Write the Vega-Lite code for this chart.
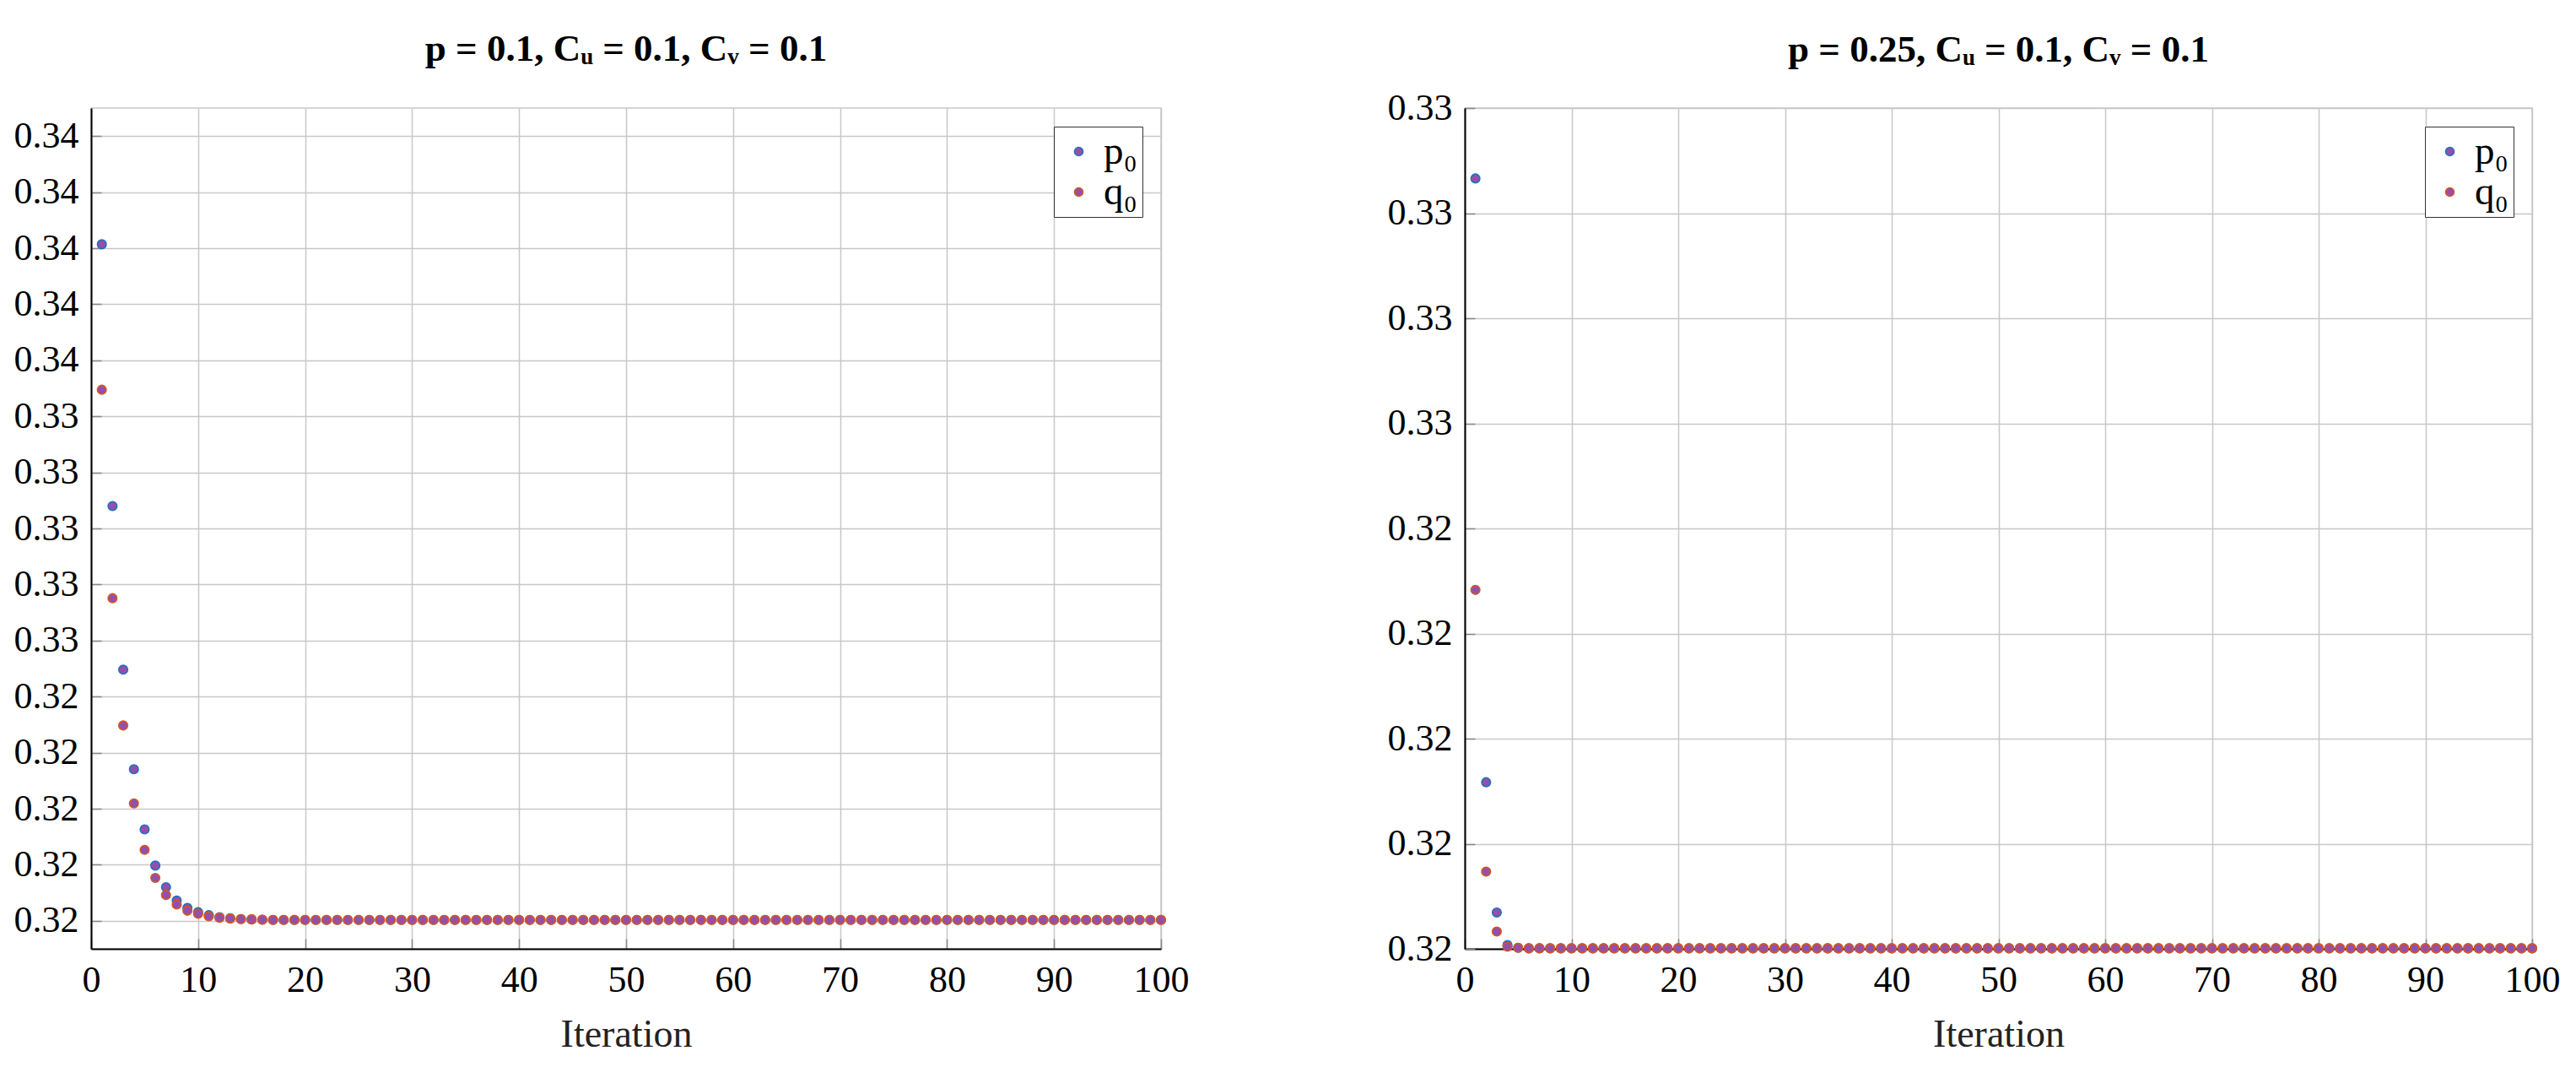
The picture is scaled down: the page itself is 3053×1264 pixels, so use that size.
{
  "$schema": "https://vega.github.io/schema/vega-lite/v6.json",
  "padding": {"left": 15, "top": 35, "right": 0, "bottom": 0},
  "spacing": 233,
  "resolve": {"scale": {"stroke": "independent"}, "legend": {"stroke": "independent"}},
  "datasets": {
    "left": [
      {"i":1,"p":0.34014,"q":0.33495},{"i":2,"p":0.3308,"q":0.32751},{"i":3,"p":0.32496,"q":0.32297},{"i":4,"p":0.32141,"q":0.32019},{"i":5,"p":0.31926,"q":0.31853},
      {"i":6,"p":0.31797,"q":0.31753},{"i":7,"p":0.3172,"q":0.31692},{"i":8,"p":0.31672,"q":0.31658},{"i":9,"p":0.31646,"q":0.31636},{"i":10,"p":0.31631,"q":0.31625},
      {"i":11,"p":0.3162,"q":0.31616},{"i":12,"p":0.31613,"q":0.31611},{"i":13,"p":0.31609,"q":0.31608},{"i":14,"p":0.31606,"q":0.31606},{"i":15,"p":0.31605,"q":0.31605},
      {"i":16,"p":0.31604,"q":0.31604},{"i":17,"p":0.31603,"q":0.31603},{"i":18,"p":0.31603,"q":0.31603},{"i":19,"p":0.31603,"q":0.31603},{"i":20,"p":0.31603,"q":0.31603},
      {"i":21,"p":0.31603,"q":0.31603},{"i":22,"p":0.31603,"q":0.31603},{"i":23,"p":0.31603,"q":0.31603},{"i":24,"p":0.31603,"q":0.31603},{"i":25,"p":0.31603,"q":0.31603},
      {"i":26,"p":0.31603,"q":0.31603},{"i":27,"p":0.31603,"q":0.31603},{"i":28,"p":0.31603,"q":0.31603},{"i":29,"p":0.31603,"q":0.31603},{"i":30,"p":0.31603,"q":0.31603},
      {"i":31,"p":0.31603,"q":0.31603},{"i":32,"p":0.31603,"q":0.31603},{"i":33,"p":0.31603,"q":0.31603},{"i":34,"p":0.31603,"q":0.31603},{"i":35,"p":0.31603,"q":0.31603},
      {"i":36,"p":0.31603,"q":0.31603},{"i":37,"p":0.31603,"q":0.31603},{"i":38,"p":0.31603,"q":0.31603},{"i":39,"p":0.31603,"q":0.31603},{"i":40,"p":0.31603,"q":0.31603},
      {"i":41,"p":0.31603,"q":0.31603},{"i":42,"p":0.31603,"q":0.31603},{"i":43,"p":0.31603,"q":0.31603},{"i":44,"p":0.31603,"q":0.31603},{"i":45,"p":0.31603,"q":0.31603},
      {"i":46,"p":0.31603,"q":0.31603},{"i":47,"p":0.31603,"q":0.31603},{"i":48,"p":0.31603,"q":0.31603},{"i":49,"p":0.31603,"q":0.31603},{"i":50,"p":0.31603,"q":0.31603},
      {"i":51,"p":0.31603,"q":0.31603},{"i":52,"p":0.31603,"q":0.31603},{"i":53,"p":0.31603,"q":0.31603},{"i":54,"p":0.31603,"q":0.31603},{"i":55,"p":0.31603,"q":0.31603},
      {"i":56,"p":0.31603,"q":0.31603},{"i":57,"p":0.31603,"q":0.31603},{"i":58,"p":0.31603,"q":0.31603},{"i":59,"p":0.31603,"q":0.31603},{"i":60,"p":0.31603,"q":0.31603},
      {"i":61,"p":0.31603,"q":0.31603},{"i":62,"p":0.31603,"q":0.31603},{"i":63,"p":0.31603,"q":0.31603},{"i":64,"p":0.31603,"q":0.31603},{"i":65,"p":0.31603,"q":0.31603},
      {"i":66,"p":0.31603,"q":0.31603},{"i":67,"p":0.31603,"q":0.31603},{"i":68,"p":0.31603,"q":0.31603},{"i":69,"p":0.31603,"q":0.31603},{"i":70,"p":0.31603,"q":0.31603},
      {"i":71,"p":0.31603,"q":0.31603},{"i":72,"p":0.31603,"q":0.31603},{"i":73,"p":0.31603,"q":0.31603},{"i":74,"p":0.31603,"q":0.31603},{"i":75,"p":0.31603,"q":0.31603},
      {"i":76,"p":0.31603,"q":0.31603},{"i":77,"p":0.31603,"q":0.31603},{"i":78,"p":0.31603,"q":0.31603},{"i":79,"p":0.31603,"q":0.31603},{"i":80,"p":0.31603,"q":0.31603},
      {"i":81,"p":0.31603,"q":0.31603},{"i":82,"p":0.31603,"q":0.31603},{"i":83,"p":0.31603,"q":0.31603},{"i":84,"p":0.31603,"q":0.31603},{"i":85,"p":0.31603,"q":0.31603},
      {"i":86,"p":0.31603,"q":0.31603},{"i":87,"p":0.31603,"q":0.31603},{"i":88,"p":0.31603,"q":0.31603},{"i":89,"p":0.31603,"q":0.31603},{"i":90,"p":0.31603,"q":0.31603},
      {"i":91,"p":0.31603,"q":0.31603},{"i":92,"p":0.31603,"q":0.31603},{"i":93,"p":0.31603,"q":0.31603},{"i":94,"p":0.31603,"q":0.31603},{"i":95,"p":0.31603,"q":0.31603},
      {"i":96,"p":0.31603,"q":0.31603},{"i":97,"p":0.31603,"q":0.31603},{"i":98,"p":0.31603,"q":0.31603},{"i":99,"p":0.31603,"q":0.31603},{"i":100,"p":0.31603,"q":0.31603}
    ],
    "right": [
      {"i":1,"p":0.33066,"q":0.32283},{"i":2,"p":0.31917,"q":0.31747},{"i":3,"p":0.31669,"q":0.31633},{"i":4,"p":0.31607,"q":0.31604},{"i":5,"p":0.31602,"q":0.31602},
      {"i":6,"p":0.31601,"q":0.31601},{"i":7,"p":0.31601,"q":0.31601},{"i":8,"p":0.31601,"q":0.31601},{"i":9,"p":0.31601,"q":0.31601},{"i":10,"p":0.31601,"q":0.31601},
      {"i":11,"p":0.31601,"q":0.31601},{"i":12,"p":0.31601,"q":0.31601},{"i":13,"p":0.31601,"q":0.31601},{"i":14,"p":0.31601,"q":0.31601},{"i":15,"p":0.31601,"q":0.31601},
      {"i":16,"p":0.31601,"q":0.31601},{"i":17,"p":0.31601,"q":0.31601},{"i":18,"p":0.31601,"q":0.31601},{"i":19,"p":0.31601,"q":0.31601},{"i":20,"p":0.31601,"q":0.31601},
      {"i":21,"p":0.31601,"q":0.31601},{"i":22,"p":0.31601,"q":0.31601},{"i":23,"p":0.31601,"q":0.31601},{"i":24,"p":0.31601,"q":0.31601},{"i":25,"p":0.31601,"q":0.31601},
      {"i":26,"p":0.31601,"q":0.31601},{"i":27,"p":0.31601,"q":0.31601},{"i":28,"p":0.31601,"q":0.31601},{"i":29,"p":0.31601,"q":0.31601},{"i":30,"p":0.31601,"q":0.31601},
      {"i":31,"p":0.31601,"q":0.31601},{"i":32,"p":0.31601,"q":0.31601},{"i":33,"p":0.31601,"q":0.31601},{"i":34,"p":0.31601,"q":0.31601},{"i":35,"p":0.31601,"q":0.31601},
      {"i":36,"p":0.31601,"q":0.31601},{"i":37,"p":0.31601,"q":0.31601},{"i":38,"p":0.31601,"q":0.31601},{"i":39,"p":0.31601,"q":0.31601},{"i":40,"p":0.31601,"q":0.31601},
      {"i":41,"p":0.31601,"q":0.31601},{"i":42,"p":0.31601,"q":0.31601},{"i":43,"p":0.31601,"q":0.31601},{"i":44,"p":0.31601,"q":0.31601},{"i":45,"p":0.31601,"q":0.31601},
      {"i":46,"p":0.31601,"q":0.31601},{"i":47,"p":0.31601,"q":0.31601},{"i":48,"p":0.31601,"q":0.31601},{"i":49,"p":0.31601,"q":0.31601},{"i":50,"p":0.31601,"q":0.31601},
      {"i":51,"p":0.31601,"q":0.31601},{"i":52,"p":0.31601,"q":0.31601},{"i":53,"p":0.31601,"q":0.31601},{"i":54,"p":0.31601,"q":0.31601},{"i":55,"p":0.31601,"q":0.31601},
      {"i":56,"p":0.31601,"q":0.31601},{"i":57,"p":0.31601,"q":0.31601},{"i":58,"p":0.31601,"q":0.31601},{"i":59,"p":0.31601,"q":0.31601},{"i":60,"p":0.31601,"q":0.31601},
      {"i":61,"p":0.31601,"q":0.31601},{"i":62,"p":0.31601,"q":0.31601},{"i":63,"p":0.31601,"q":0.31601},{"i":64,"p":0.31601,"q":0.31601},{"i":65,"p":0.31601,"q":0.31601},
      {"i":66,"p":0.31601,"q":0.31601},{"i":67,"p":0.31601,"q":0.31601},{"i":68,"p":0.31601,"q":0.31601},{"i":69,"p":0.31601,"q":0.31601},{"i":70,"p":0.31601,"q":0.31601},
      {"i":71,"p":0.31601,"q":0.31601},{"i":72,"p":0.31601,"q":0.31601},{"i":73,"p":0.31601,"q":0.31601},{"i":74,"p":0.31601,"q":0.31601},{"i":75,"p":0.31601,"q":0.31601},
      {"i":76,"p":0.31601,"q":0.31601},{"i":77,"p":0.31601,"q":0.31601},{"i":78,"p":0.31601,"q":0.31601},{"i":79,"p":0.31601,"q":0.31601},{"i":80,"p":0.31601,"q":0.31601},
      {"i":81,"p":0.31601,"q":0.31601},{"i":82,"p":0.31601,"q":0.31601},{"i":83,"p":0.31601,"q":0.31601},{"i":84,"p":0.31601,"q":0.31601},{"i":85,"p":0.31601,"q":0.31601},
      {"i":86,"p":0.31601,"q":0.31601},{"i":87,"p":0.31601,"q":0.31601},{"i":88,"p":0.31601,"q":0.31601},{"i":89,"p":0.31601,"q":0.31601},{"i":90,"p":0.31601,"q":0.31601},
      {"i":91,"p":0.31601,"q":0.31601},{"i":92,"p":0.31601,"q":0.31601},{"i":93,"p":0.31601,"q":0.31601},{"i":94,"p":0.31601,"q":0.31601},{"i":95,"p":0.31601,"q":0.31601},
      {"i":96,"p":0.31601,"q":0.31601},{"i":97,"p":0.31601,"q":0.31601},{"i":98,"p":0.31601,"q":0.31601},{"i":99,"p":0.31601,"q":0.31601},{"i":100,"p":0.31601,"q":0.31601}
    ]
  },
  "hconcat": [
    {
      "title": "p = 0.1, Cᵤ = 0.1, Cᵥ = 0.1",
      "width": 1268,
      "height": 996,
      "data": {"name": "left"},
      "transform": [{"fold": ["p", "q"], "as": ["s", "v"]}],
      "mark": {"type": "point", "shape": "circle", "fill": "#9450a8", "fillOpacity": 1, "opacity": 1, "strokeWidth": 1.6, "size": 110},
      "encoding": {
        "x": {"field": "i", "type": "quantitative", "title": "Iteration",
              "scale": {"domain": [0, 100], "nice": false, "padding": 0},
              "axis": {"values": [0,10,20,30,40,50,60,70,80,90,100]}},
        "y": {"field": "v", "type": "quantitative", "title": null,
              "scale": {"domain": [0.315, 0.345], "nice": false, "zero": false, "padding": 0},
              "axis": {"values": [0.316,0.318,0.32,0.322,0.324,0.326,0.328,0.33,0.332,0.334,0.336,0.338,0.34,0.342,0.344], "format": ".2f"}},
        "stroke": {"field": "s", "type": "nominal", "title": null,
                   "scale": {"domain": ["p", "q"], "range": ["#1f6fc4", "#d9541e"]},
                   "legend": {"labelExpr": "datum.label == 'p' ? 'p₀' : 'q₀'"}}
      }
    },
    {
      "title": {"text": "p = 0.25, Cᵤ = 0.1, Cᵥ = 0.1", "offset": 24},
      "width": 1265,
      "height": 996,
      "data": {"name": "right"},
      "transform": [{"fold": ["p", "q"], "as": ["s", "v"]}],
      "mark": {"type": "point", "shape": "circle", "fill": "#9450a8", "fillOpacity": 1, "opacity": 1, "strokeWidth": 1.6, "size": 110},
      "encoding": {
        "x": {"field": "i", "type": "quantitative", "title": "Iteration",
              "scale": {"domain": [0, 100], "nice": false, "padding": 0},
              "axis": {"values": [0,10,20,30,40,50,60,70,80,90,100]}},
        "y": {"field": "v", "type": "quantitative", "title": null,
              "scale": {"domain": [0.316, 0.332], "nice": false, "zero": false, "padding": 0},
              "axis": {"values": [0.316,0.318,0.32,0.322,0.324,0.326,0.328,0.33,0.332], "format": ".2f"}},
        "stroke": {"field": "s", "type": "nominal", "title": null,
                   "scale": {"domain": ["p", "q"], "range": ["#1f6fc4", "#d9541e"]},
                   "legend": {"labelExpr": "datum.label == 'p' ? 'p₀' : 'q₀'"}}
      }
    }
  ],
  "config": {
    "font": "Liberation Serif",
    "view": {"stroke": "#c8c8c8", "strokeWidth": 1.5},
    "title": {"fontSize": 45, "fontWeight": "bold", "color": "black", "offset": 47, "frame": "group", "font": "Liberation Serif"},
    "axis": {
      "labelFont": "Liberation Serif", "labelFontSize": 44, "labelColor": "black", "labelFlush": false,
      "titleFont": "Liberation Serif", "titleFontSize": 46, "titleFontWeight": "normal", "titleColor": "#222",
      "gridColor": "#c8c8c8", "gridWidth": 1.5,
      "domainColor": "black", "domainWidth": 2,
      "tickColor": "#888", "tickWidth": 1.5, "tickSize": -12, "labelPadding": 27, "titlePadding": 20
    },
    "legend": {
      "orient": "top-right", "offset": 22, "strokeColor": "#333", "fillColor": "white",
      "padding": 6, "labelFont": "Liberation Serif", "labelFontSize": 47, "labelColor": "black",
      "symbolType": "circle", "symbolSize": 100, "symbolStrokeWidth": 1.6, "symbolFillColor": "#9450a8", "symbolOpacity": 1,
      "rowPadding": 0, "labelOffset": 6
    }
  }
}
